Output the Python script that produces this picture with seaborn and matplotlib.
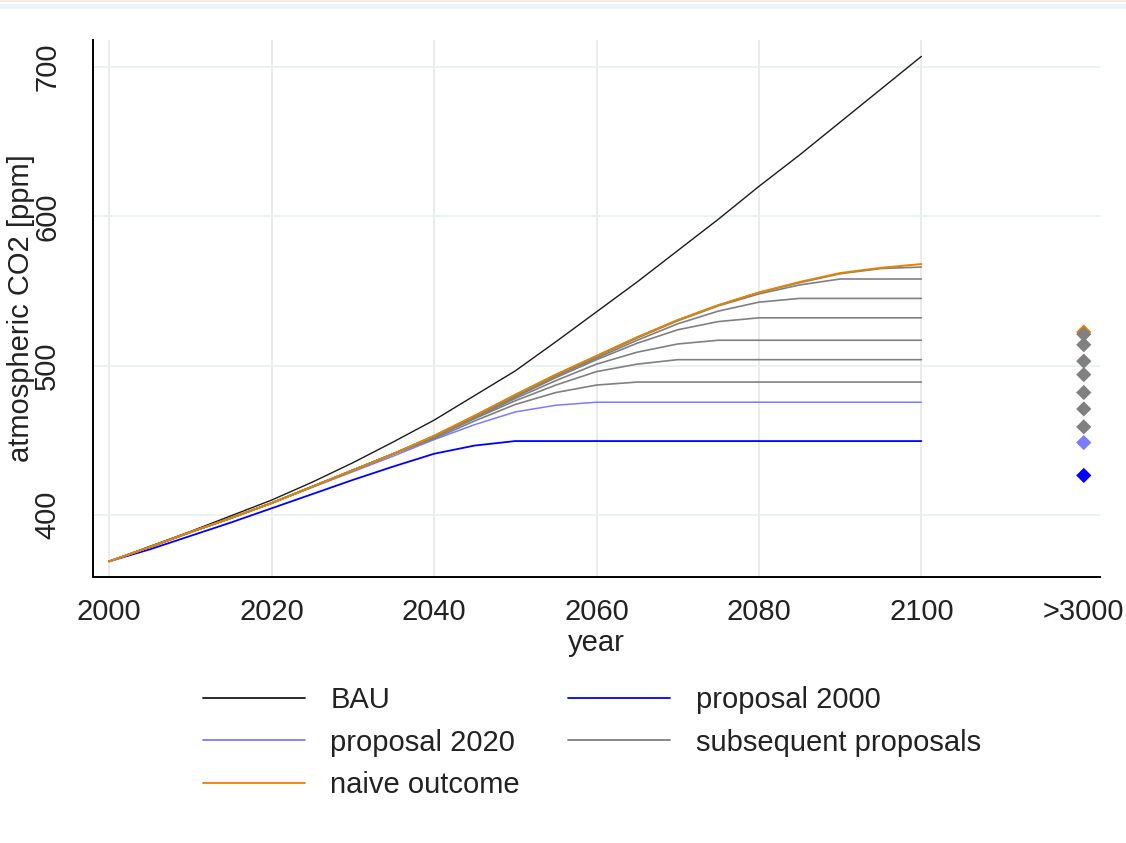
import seaborn as sns
import matplotlib.pyplot as plt
from matplotlib.lines import Line2D
from matplotlib.patches import Rectangle
import pandas as pd

years = [2000, 2005, 2010, 2015, 2020, 2025, 2030, 2035, 2040, 2045, 2050,
         2055, 2060, 2065, 2070, 2075, 2080, 2085, 2090, 2095, 2100]

bau = [369, 379, 389, 399.5, 410, 422, 435, 449, 463.5, 480, 496.5,
       516, 536, 556, 577, 598, 620, 641, 663, 685, 707]
naive = [369, 378.5, 388.5, 398, 408, 419, 430, 441, 453, 466.5, 480.5,
         494, 506.5, 519, 530.5, 540.5, 549, 556, 562, 565.5, 568]
prop2000 = [369, 377, 386, 395, 404.5, 414, 423.5, 432.5, 441, 446.5, 449.5,
            449.5, 449.5, 449.5, 449.5, 449.5, 449.5, 449.5, 449.5, 449.5, 449.5]
prop2020 = [369, 378.5, 388.5, 398, 408, 418.5, 429, 439.5, 450.5, 460.5, 469,
            473.5, 475.5, 475.5, 475.5, 475.5, 475.5, 475.5, 475.5, 475.5, 475.5]

early = [369, 378.5, 388.5, 398, 408, 419, 430, 441]
subsequent = [
    early + [451, 463, 474, 482, 487, 489, 489, 489, 489, 489, 489, 489, 489],
    early + [452, 464.5, 476.5, 487, 496, 501, 504, 504, 504, 504, 504, 504, 504],
    early + [452, 465, 478, 490, 501, 509, 514.5, 517, 517, 517, 517, 517, 517],
    early + [452.5, 465.5, 479, 492, 504, 515, 524, 529.5, 532, 532, 532, 532, 532],
    early + [452.5, 466, 479.5, 493, 505, 517, 528, 536.5, 542.5, 545, 545, 545, 545],
    early + [453, 466, 480, 493.5, 506, 518.5, 530, 540, 548, 554, 558, 558, 558],
    early + [453, 466.5, 480.5, 494, 506.5, 519, 530.5, 540.5, 549, 555.5, 561.5, 565, 566],
]

# equilibrium values shown at ">3000"
end_naive = 522.5
end_subsequent = [459, 471, 482, 494, 503, 514, 521]
end_2020 = 448.5
end_2000 = 426.5

x_ticks = [2000, 2020, 2040, 2060, 2080, 2100, 2120]
x_ticklabels = ["2000", "2020", "2040", "2060", "2080", "2100", ">3000"]
y_ticks = [400, 500, 600, 700]

colors = {
    "BAU": "#1a1a1a",
    "proposal 2000": "#0000ff",
    "proposal 2020": "#7b7bff",
    "subsequent proposals": "#808080",
    "naive outcome": "#e38400",
}
order = ["BAU", "proposal 2000", "proposal 2020", "subsequent proposals", "naive outcome"]
widths = {"BAU": 1.0, "proposal 2000": 1.3, "proposal 2020": 1.1,
          "subsequent proposals": 1.2, "naive outcome": 1.4}

rows = []
series = [("BAU", "bau", bau), ("proposal 2000", "p2000", prop2000),
          ("proposal 2020", "p2020", prop2020)]
series += [("subsequent proposals", f"s{i}", s) for i, s in enumerate(subsequent)]
series += [("naive outcome", "naive", naive)]
for group, line, vals in series:
    for y, v in zip(years, vals):
        rows.append({"group": group, "line": line, "year": y, "ppm": v})
df = pd.DataFrame(rows)

ends = pd.DataFrame({
    "group": ["proposal 2000", "proposal 2020"] + ["subsequent proposals"] * 7 + ["naive outcome"],
    "year": [2120] * 10,
    "ppm": [end_2000, end_2020] + end_subsequent + [end_naive],
})

sns.set_style("white")
plt.rcParams["font.family"] = ["Liberation Sans Narrow", "Liberation Sans", "DejaVu Sans"]
FS = 21

fig = plt.figure(figsize=(11.26, 8.43), dpi=100)
ax = fig.add_axes([93 / 1126, 1 - 577 / 843, (1100 - 93) / 1126, (577 - 40) / 843])

for x in x_ticks[:-1]:
    ax.axvline(x, color="#e8e8e8", lw=1.2, zorder=0)
for y in y_ticks:
    ax.axhline(y, color="#e8f0f2", lw=1.2, zorder=0)

for group in order:
    sub = df[df["group"] == group]
    sns.lineplot(data=sub, x="year", y="ppm", units="line", estimator=None,
                 color=colors[group], lw=widths[group], ax=ax, legend=False)

sns.scatterplot(data=ends.iloc[::-1], x="year", y="ppm", hue="group", palette=colors,
                marker="D", s=60, edgecolor="none", ax=ax, legend=False, zorder=5)

ax.set_xlim(1998, 2122)
ax.set_ylim(358.5, 718)
ax.set_xticks(x_ticks)
ax.set_xticklabels(x_ticklabels)
ax.set_yticks(y_ticks)
ax.set_yticklabels([str(v) for v in y_ticks], rotation=90, va="center")
ax.tick_params(axis="both", length=10, width=1.4, color="black",
               labelsize=FS, labelcolor="#222222", direction="out")
ax.tick_params(axis="x", pad=5)
ax.tick_params(axis="y", pad=13)
ax.set_xlabel("year", fontsize=FS, color="#222222", labelpad=2)
ax.set_ylabel("atmospheric CO2 [ppm]", fontsize=FS, color="#222222", labelpad=-1.5)
for side in ["top", "right"]:
    ax.spines[side].set_visible(False)
for side in ["left", "bottom"]:
    ax.spines[side].set_color("black")
    ax.spines[side].set_linewidth(1.4)

legend_order = ["BAU", "proposal 2020", "naive outcome", "proposal 2000", "subsequent proposals"]
handles = [Line2D([], [], color=colors[g], lw=1.3) for g in legend_order]
fig.legend(handles, legend_order, loc="upper left", bbox_to_anchor=(203 / 1126, 1 - 686 / 843),
           ncol=2, frameon=False, fontsize=FS, handlelength=3.5, handletextpad=0.87,
           columnspacing=1.65, labelspacing=0.5, borderpad=0, borderaxespad=0,
           labelcolor="#222222")

# screenshot strip at the top
fig.add_artist(Rectangle((0, 1 - 2 / 843), 1, 2 / 843, transform=fig.transFigure,
                         color="#f3ebe0", lw=0))
fig.add_artist(Rectangle((0, 1 - 9 / 843), 1, 5 / 843, transform=fig.transFigure,
                         color="#eaf3f6", lw=0))

fig.savefig("out.png", dpi=100)
